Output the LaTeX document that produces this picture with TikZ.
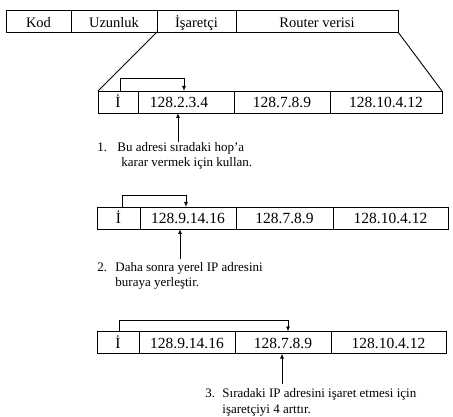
\documentclass[tikz,border=0pt]{standalone}
\usepackage{fontspec}
\setmainfont{Liberation Serif}
\usetikzlibrary{arrows.meta}
\begin{document}
\begin{tikzpicture}[x=1pt,y=-1pt,line width=0.9pt,
  topcell/.style={draw,minimum height=22pt,inner sep=0pt,outer sep=0pt,
    font=\fontsize{14.5}{16}\selectfont,text height=14pt,text depth=0pt},
  cell/.style={draw,minimum height=22pt,inner sep=0pt,outer sep=0pt,
    font=\fontsize{15.5}{18}\selectfont,text height=12pt,text depth=0pt},
  note/.style={anchor=base west,inner sep=0pt,font=\fontsize{13}{15}\selectfont},
  ptr/.style={-{Latex[length=5pt,width=4pt]}}]
\useasboundingbox (0,0) rectangle (453,417);

% top bar
\node[topcell,minimum width=65pt]  (kod) at (38.5,21) {Kod};
\node[topcell,minimum width=86pt]  (uz)  at (114,21)  {Uzunluk};
\node[topcell,minimum width=79pt]  (isa) at (196.5,21) {İşaretçi};
\node[topcell,minimum width=162pt] (rv)  at (317,21)  {Router verisi};

% row 1
\node[cell,minimum width=40pt]  (r1i) at (118,102) {İ};
\node[cell,minimum width=96pt]  (r1a) at (186,102) {128.2.3.4\hspace*{14pt}};
\node[cell,minimum width=96pt]  (r1b) at (282,102) {128.7.8.9};
\node[cell,minimum width=112pt] (r1c) at (386,102) {128.10.4.12};

% zoom lines
\draw (isa.south west) -- (r1i.north west);
\draw (rv.south east) -- (r1c.north east);

% row 2
\node[cell,minimum width=43pt]  (r2i) at (118.5,218) {İ};
\node[cell,minimum width=96pt]  (r2a) at (188,218) {128.9.14.16};
\node[cell,minimum width=97pt]  (r2b) at (284.5,218) {128.7.8.9};
\node[cell,minimum width=115pt] (r2c) at (390.5,218) {128.10.4.12};

% row 3
\node[cell,minimum width=42pt]  (r3i) at (118,342.5) {İ};
\node[cell,minimum width=96pt]  (r3a) at (187,342.5) {128.9.14.16};
\node[cell,minimum width=96pt]  (r3b) at (283,342.5) {128.7.8.9};
\node[cell,minimum width=115pt] (r3c) at (388.5,342.5) {128.10.4.12};

% pointers
\draw[ptr] ([xshift=2pt]r1i.north) -- ++(0,-13) -| ([xshift=-2pt]r1a.north);
\draw[ptr] ([xshift=3.5pt]r2i.north) -- ++(0,-12) -| ([xshift=-2pt]r2a.north);
\draw[ptr] ([xshift=1pt]r3i.north) -- ++(0,-11.5) -| ([xshift=5pt]r3b.north);

% notes
\node[note] (n1a) at (97,152) {\makebox[20pt][l]{1.}Bu adresi sıradaki hop’a};
\node[note] (n1b) at (121,167) {karar vermek için kullan.};
\node[note] (n2a) at (97,272) {\makebox[18pt][l]{2.}Daha sonra yerel IP adresini};
\node[note] (n2b) at (115,287) {buraya yerleştir.};
\node[note] (n3a) at (205,397) {\makebox[17pt][l]{3.}Sıradaki IP adresini işaret etmesi için};
\node[note] (n3b) at (222,413) {işaretçiyi 4 arttır.};

% up arrows
\coordinate (u1) at (178,142);
\coordinate (u2) at (180,259);
\coordinate (u3) at (282,384);
\draw[ptr] (u1) -- (u1 |- r1a.south);
\draw[ptr] (u2) -- (u2 |- r2a.south);
\draw[ptr] (u3) -- (u3 |- r3b.south);
\end{tikzpicture}
\end{document}
